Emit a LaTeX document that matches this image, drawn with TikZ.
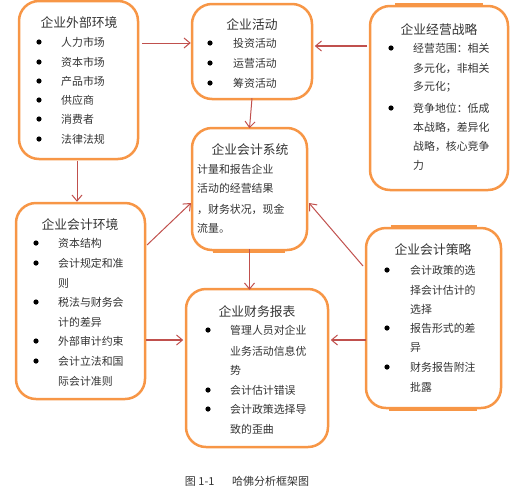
\documentclass[tikz,border=0pt]{standalone}
\usepackage{fontspec}
\setmainfont{Noto Sans CJK SC}
\usetikzlibrary{arrows.meta}
\definecolor{orb}{HTML}{F79646}
\definecolor{arr}{HTML}{C0504D}
\definecolor{ink}{HTML}{333333}
\newcommand\bul[2]{\fill (#1,#2) circle (2.6pt);}
\begin{document}
\begin{tikzpicture}[x=1pt,y=-1pt,
 box/.style={draw=orb, line width=2.5pt, rounded corners=20pt, inner sep=0pt},
 edge/.style={draw=orb, line width=4pt},
 ttl/.style={font=\fontsize{12.8}{14}\selectfont, inner sep=0pt, text=ink},
 txt/.style={font=\fontsize{10.9}{12}\selectfont, anchor=west, inner sep=0pt, text=ink},
 con/.style={draw=arr, line width=1pt, -{Straight Barb[length=6pt,width=10pt,line width=1pt]}},
 conb/.style={con, line width=2.4pt}]
\useasboundingbox (0,0) rectangle (513,493);
% boxes
\node[box, minimum width=119pt, minimum height=158pt] (b1) at (78.5,80) {};
\node[box, minimum width=120pt, minimum height=95pt] (b2) at (252,51.5) {};
\node[box, minimum width=138pt, minimum height=184pt] (b3) at (439,98) {};
\node[box, minimum width=115pt, minimum height=122pt] (b4) at (249.5,189) {};
\node[box, minimum width=129pt, minimum height=196pt] (b5) at (80.5,301) {};
\node[box, minimum width=142pt, minimum height=158pt] (b6) at (257,368) {};
\node[box, minimum width=135pt, minimum height=180pt] (b7) at (433.5,318) {};
% thicker edge segments
\draw[edge] ([xshift=-38pt]b1.north) -- ([xshift=39pt]b1.north);
\draw[edge] ([xshift=-44pt]b3.north) -- ([xshift=44pt]b3.north);
\draw[edge] ([xshift=-43pt]b7.north) -- ([xshift=43pt]b7.north);
\draw[edge] ([xshift=-45pt]b7.south) -- ([xshift=43pt]b7.south);
\draw[edge] ([xshift=-37pt]b4.south) -- ([xshift=35pt]b4.south);
% box 1
\node[ttl] (t1) at (79,23) {企业外部环境};
\foreach \y/\s [count=\i] in {42/人力市场,62/资本市场,81/产品市场,100/供应商,119/消费者,139/法律法规}{
  \bul{39}{\y}\node[txt] (a\i) at (61,\y) {\s};}
% box 2
\node[ttl] (t2) at (252,25) {企业活动};
\foreach \y/\s [count=\i] in {43/投资活动,63/运营活动,83/筹资活动}{
  \bul{210}{\y}\node[txt] (c\i) at (233,\y) {\s};}
% box 3
\node[ttl] (t3) at (439,30) {企业经营战略};
\bul{391}{48}\bul{391}{108}
\foreach \y/\s [count=\i] in {48/经营范围：相关,68/多元化，非相关,87/多元化；,108/竞争地位：低成,127/本战略，差异化,146/战略，核心竞争,165/力}{
  \node[txt] (d\i) at (413,\y) {\s};}
% box 4
\node[ttl] (t4) at (250,150) {企业会计系统};
\foreach \y/\s [count=\i] in {169/计量和报告企业,188/活动的经营结果,209/，财务状况，现金,228/流量。}{
  \node[txt] (e\i) at (197,\y) {\s};}
% box 5
\node[ttl] (t5) at (80,225) {企业会计环境};
\foreach \y in {243,263,302,341,361}{\bul{36}{\y}}
\foreach \y/\s [count=\i] in {243/资本结构,263/会计规定和准,283/则,302/税法与财务会,322/计的差异,341/外部审计约束,361/会计立法和国,381/际会计准则}{
  \node[txt] (f\i) at (58,\y) {\s};}
% box 6
\node[ttl] (t6) at (257,312) {企业财务报表};
\foreach \y in {330,390,409}{\bul{208}{\y}}
\foreach \y/\s [count=\i] in {330/管理人员对企业,351/业务活动信息优,370/势,390/会计估计错误,409/会计政策选择导,429/致的歪曲}{
  \node[txt] (g\i) at (230,\y) {\s};}
% box 7
\node[ttl] (t7) at (433,250) {企业会计策略};
\foreach \y in {270,328,367}{\bul{387}{\y}}
\foreach \y/\s [count=\i] in {270/会计政策的选,290/择会计估计的,309/选择,328/报告形式的差,348/异,367/财务报告附注,387/批露}{
  \node[txt] (h\i) at (410,\y) {\s};}
% caption
\node[font=\fontsize{11}{13}\selectfont, inner sep=0pt, text=ink] (cap) at (247,481) {图 1-1\hspace{1.6em}哈佛分析框架图};
% connectors
\coordinate (p1) at (142,43);
\draw[con] (p1) -- (b2.west |- p1);
\coordinate (p2) at (367,46);
\draw[conb] (p2) -- ([xshift=1.5pt]b2.east |- p2);
\draw[con] ([yshift=2pt]b2.south) -- ([yshift=-1.5pt]b4.north);
\coordinate (p3) at (77,161);
\draw[con] (p3) -- (p3 |- b5.north);
\coordinate (p4) at (147,245);
\coordinate (p5) at (191,203);
\draw[con] (p4) -- (p5);
\coordinate (p6) at (146,340);
\draw[conb] (p6) -- ([xshift=-1.5pt]b6.west |- p6);
\draw[con] ([yshift=2pt]b4.south) -- ([yshift=-2pt]b4.south |- b6.north);
\coordinate (p7) at (363,266);
\coordinate (p8) at (309,203);
\draw[con] (p7) -- (p8);
\coordinate (p9) at (366,340);
\draw[conb] (p9) -- ([xshift=1.5pt]b6.east |- p9);
\end{tikzpicture}
\end{document}
